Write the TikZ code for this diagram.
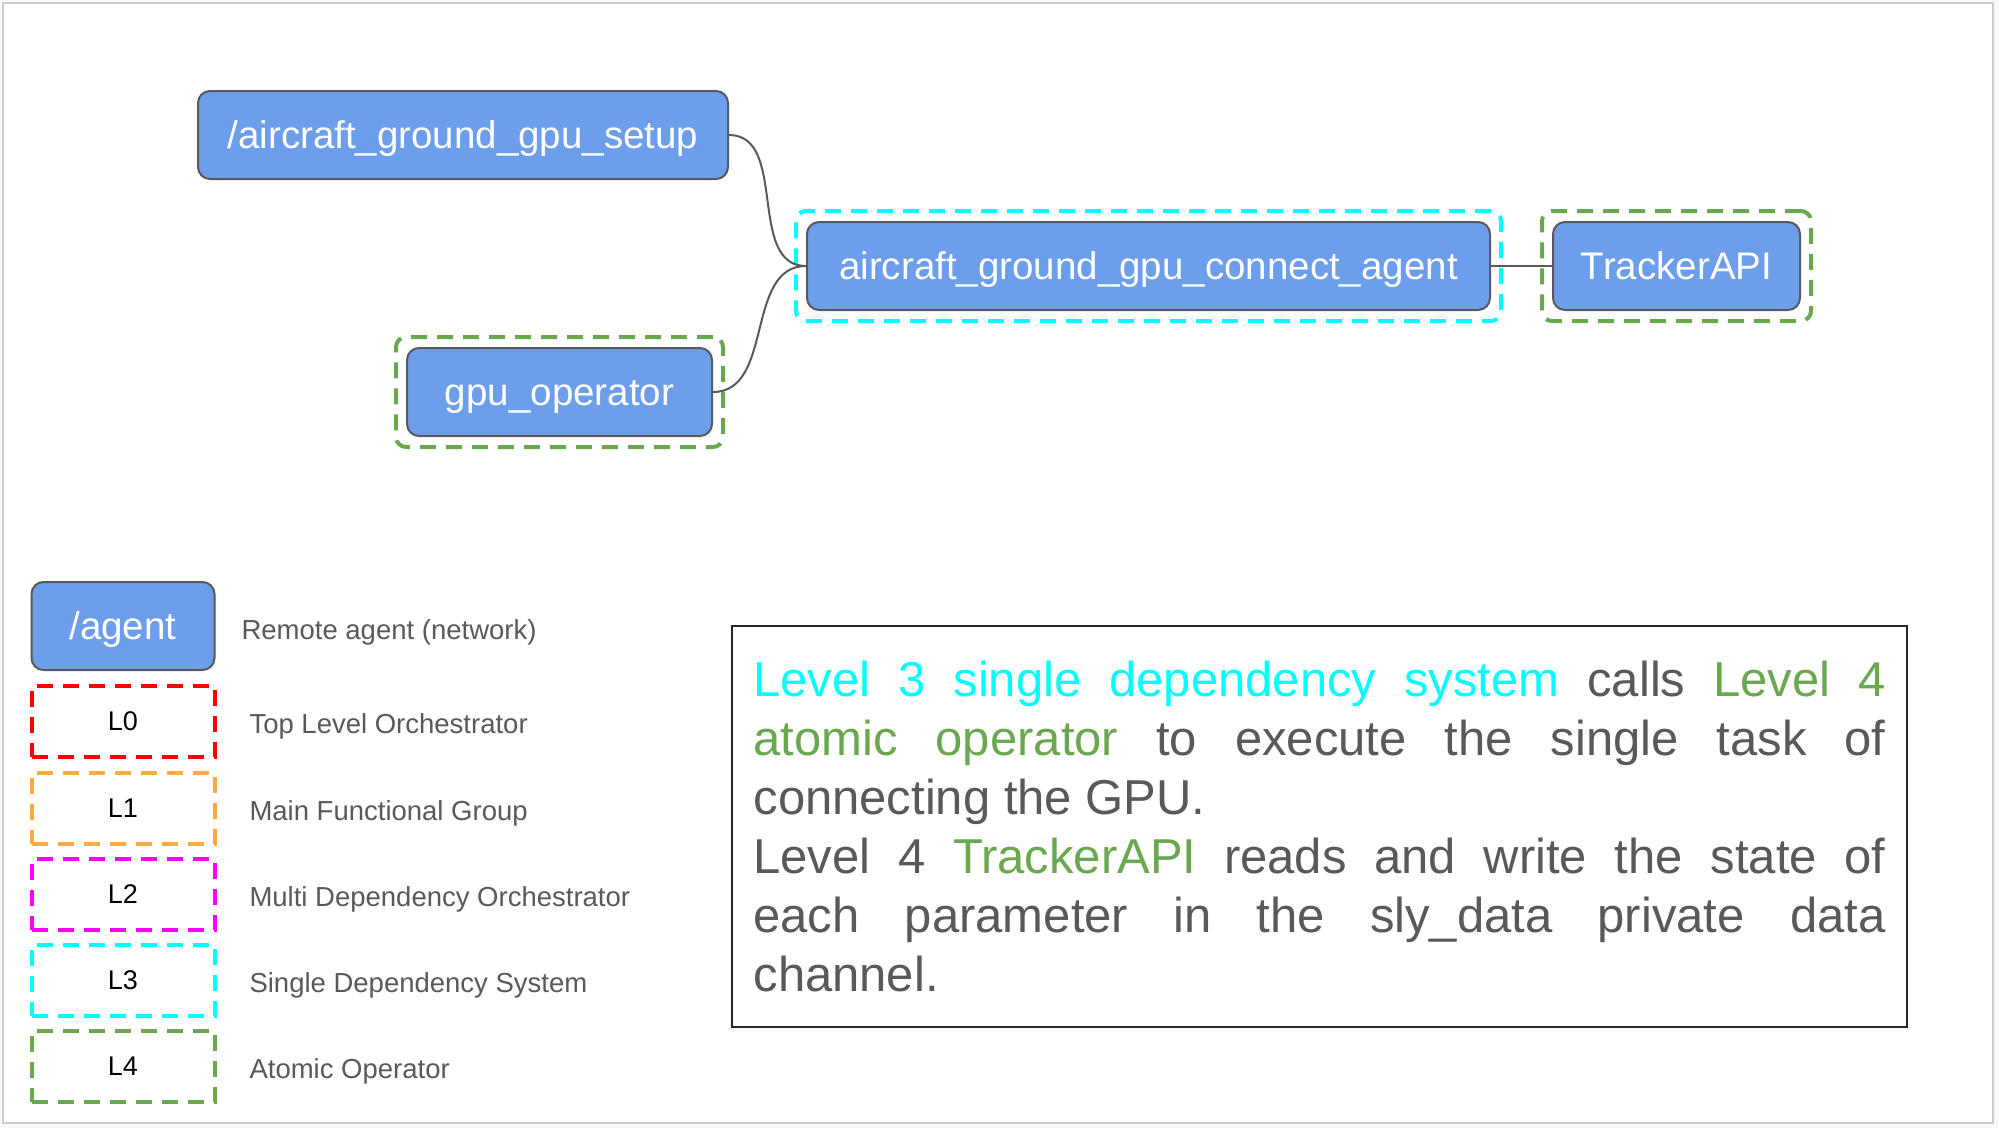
\documentclass[tikz,border=0pt]{standalone}
\usepackage{fontspec}
\setmainfont{Liberation Sans}
\usetikzlibrary{fit}
\definecolor{nodeblue}{HTML}{6D9EEB}
\definecolor{nodeedge}{HTML}{595959}
\definecolor{textgray}{HTML}{595959}
\definecolor{pagebg}{HTML}{F8F9FA}
\definecolor{lvlred}{HTML}{FF0000}
\definecolor{lvlorange}{HTML}{FFAB40}
\definecolor{lvlmagenta}{HTML}{FF00FF}
\definecolor{lvlcyan}{HTML}{00FFFF}
\definecolor{lvlgreen}{HTML}{6AA84F}
\tolerance=10000
\hbadness=10000

\begin{document}
\begin{tikzpicture}[x=1pt, y=-1pt]
\tikzset{
  box/.style={
    draw=nodeedge, fill=nodeblue, line width=2pt, rounded corners=12pt,
    minimum height=88pt, text=white, text height=27pt, text depth=0pt,
    font=\fontsize{38.5}{46}\selectfont
  },
  lvlframe/.style={
    draw, line width=4pt, dash pattern=on 16pt off 10pt,
    rounded corners=10pt, inner sep=10pt
  },
  level/.style={
    draw, line width=4pt, dash pattern=on 16pt off 10pt,
    minimum width=183pt, minimum height=71pt,
    font=\fontsize{27}{32}\selectfont
  },
  legtext/.style={anchor=west, text=textgray, font=\fontsize{27.5}{32}\selectfont},
  link/.style={draw=nodeedge, line width=2pt}
}
\useasboundingbox (0,0) rectangle (1999,1128);
\fill[pagebg] (0,0) rectangle (1999,1128);
\draw[black!20, fill=white, line width=1.5pt] (3,3) rectangle (1993,1123);

% graph
\node[box, minimum width=530pt] (setup)   at (463, 135)    {/aircraft\_ground\_gpu\_setup};
\node[box, minimum width=683pt] (agent)   at (1148.5, 266) {aircraft\_ground\_gpu\_connect\_agent};
\node[box, minimum width=247pt] (tracker) at (1676.5, 266) {TrackerAPI};
\node[box, minimum width=305pt] (gpu)     at (559.5, 392)  {gpu\_operator};

\node[lvlframe, draw=lvlcyan,  fit=(agent)]   (agentlvl)   {};
\node[lvlframe, draw=lvlgreen, fit=(tracker)] (trackerlvl) {};
\node[lvlframe, draw=lvlgreen, fit=(gpu)]     (gpulvl)     {};

\draw[link] (setup.east) to[out=0, in=180] (agent.west);
\draw[link] (gpu.east) to[out=0, in=180] (agent.west);
\draw[link] (agent.east) -- (tracker.west);

% legend
\node[box, minimum width=183pt] (remote) at (123, 626) {/agent};
\node[legtext] (remotetxt) at (238, 632) {Remote agent (network)};

\node[level, draw=lvlred]     (l0) at (123, 721)  {L0};
\node[level, draw=lvlorange]  (l1) at (123, 808)  {L1};
\node[level, draw=lvlmagenta] (l2) at (123, 894)  {L2};
\node[level, draw=lvlcyan]    (l3) at (123, 980)  {L3};
\node[level, draw=lvlgreen]   (l4) at (123, 1066) {L4};

\node[legtext] (l0txt) at (246, 726)  {Top Level Orchestrator};
\node[legtext] (l1txt) at (246, 813)  {Main Functional Group};
\node[legtext] (l2txt) at (246, 899)  {Multi Dependency Orchestrator};
\node[legtext] (l3txt) at (246, 985)  {Single Dependency System};
\node[legtext] (l4txt) at (246, 1071) {Atomic Operator};

% note
\node[draw=black!85, line width=2pt, minimum width=1175pt, minimum height=401pt,
      text width=1132pt, align=justify, text=textgray,
      font=\fontsize{49}{59}\selectfont] (note) at (1319.5, 826.5)
  {{\color{lvlcyan}Level 3 single dependency system} calls {\color{lvlgreen}Level 4\linebreak
   atomic operator} to execute the single task of\linebreak connecting the GPU.\\
   Level 4 {\color{lvlgreen}TrackerAPI} reads and write the state of\linebreak
   each parameter in the sly\_data private data\linebreak channel.};
\end{tikzpicture}
\end{document}
